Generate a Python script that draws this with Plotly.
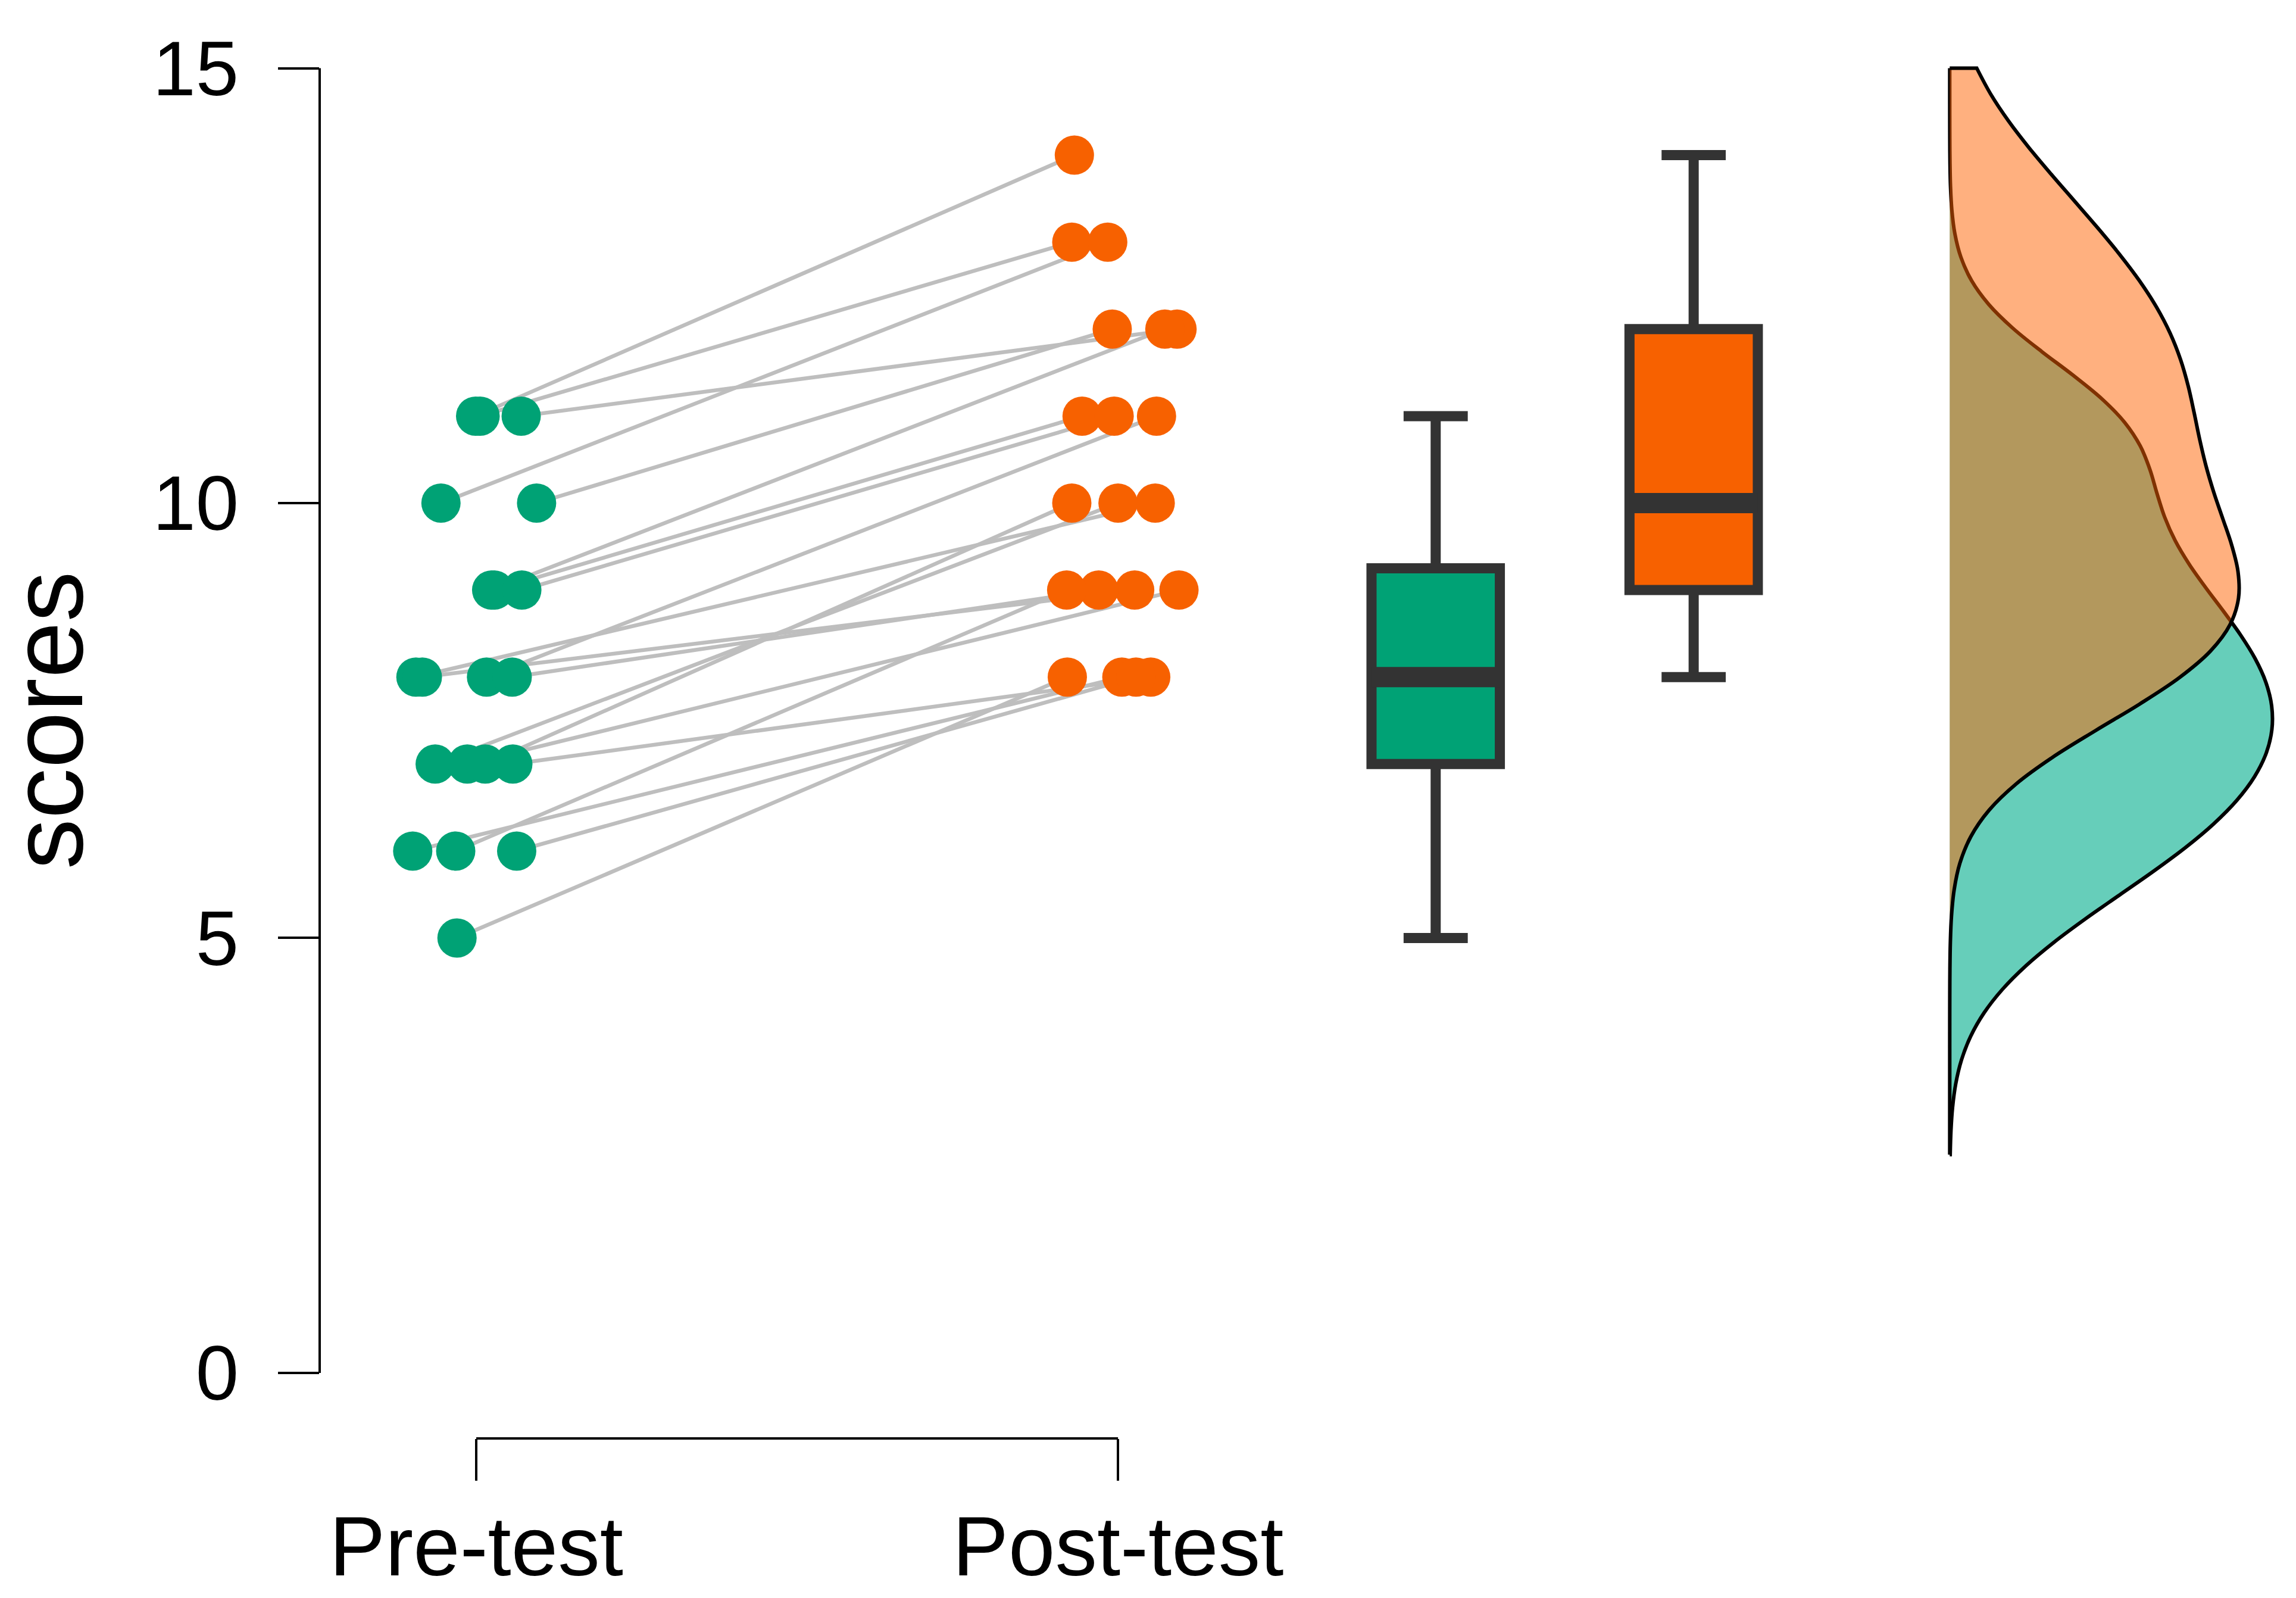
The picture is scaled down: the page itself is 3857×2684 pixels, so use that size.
import numpy as np
import plotly.graph_objects as go

# ---------------- data ----------------
categories = ["Pre-test", "Post-test"]
pre_scores = [11, 11, 11, 10, 10, 9, 9, 9, 8, 8, 8, 8, 7, 7, 7, 7, 6, 6, 6, 5]
post_scores = [14, 13, 12, 13, 12, 12, 11, 11, 10, 9, 11, 9, 10, 9, 10, 8, 8, 9, 8, 8]
# horizontal jitter of each dot (in x-units), as seen in the picture
pre_jitter = [-0.001, 0.006, 0.070, -0.055, 0.094, 0.024, 0.028, 0.071, -0.094, -0.084,
              0.016, 0.056, -0.064, -0.014, 0.014, 0.057, -0.099, -0.032, 0.063, -0.030]
post_jitter = [-0.068, -0.072, 0.092, -0.016, -0.009, 0.073, -0.056, -0.006, 0.058, 0.026,
               0.060, -0.030, 0.000, 0.095, -0.072, 0.051, 0.006, -0.080, 0.028, -0.079]
y_ticks = [0, 5, 10, 15]
y_title = "scores"

# ---------------- layout constants ----------------
X_CAT = [1, 2]
BOX_X = [2.495, 2.897]
BOX_W = 0.2
DENS_X = 3.296
GREEN = "#00A275"
ORANGE = "#F76100"
GREEN_FILL = "rgb(102,206,186)"
ORANGE_FILL = "rgba(255,97,0,0.5)"
LINE_GRAY = "#BEBEBE"
BOX_LINE = "#333333"
FONT = "Liberation Sans, Arial, sans-serif"

pre = np.array(pre_scores, dtype=float)
post = np.array(post_scores, dtype=float)


def nrd0(v):
    v = np.asarray(v, dtype=float)
    q75, q25 = np.percentile(v, [75, 25])
    return 0.9 * min(v.std(ddof=1), (q75 - q25) / 1.34) * len(v) ** -0.2


def box_stats(v):
    v = np.asarray(v, dtype=float)
    q1, med, q3 = np.percentile(v, [25, 50, 75])
    iqr = q3 - q1
    lo = v[v >= q1 - 1.5 * iqr].min()
    hi = v[v <= q3 + 1.5 * iqr].max()
    return q1, med, q3, lo, hi


bw_pre, bw_post = nrd0(pre), nrd0(post)
span_lo = min(pre.min(), post.min()) - 3 * bw_pre
span_hi = max(y_ticks)

fig = go.Figure()

# connecting lines
lx, ly = [], []
for p0, p1, j0, j1 in zip(pre_scores, post_scores, pre_jitter, post_jitter):
    lx += [X_CAT[0] + j0, X_CAT[1] + j1, None]
    ly += [p0, p1, None]
fig.add_trace(go.Scatter(x=lx, y=ly, mode="lines",
                         line=dict(color=LINE_GRAY, width=6.5),
                         hoverinfo="skip", showlegend=False))

# dots
fig.add_trace(go.Scatter(x=[X_CAT[0] + j for j in pre_jitter], y=pre_scores, mode="markers",
                         marker=dict(color=GREEN, size=66, line=dict(width=0)),
                         showlegend=False))
fig.add_trace(go.Scatter(x=[X_CAT[1] + j for j in post_jitter], y=post_scores, mode="markers",
                         marker=dict(color=ORANGE, size=66, line=dict(width=0)),
                         showlegend=False))

# boxes (quartiles as R/ggplot computes them)
for vals, bx, col in [(pre, BOX_X[0], GREEN), (post, BOX_X[1], ORANGE)]:
    q1, med, q3, lo, hi = box_stats(vals)
    fig.add_trace(go.Box(x=[bx], q1=[q1], median=[med], q3=[q3],
                         lowerfence=[lo], upperfence=[hi], width=BOX_W,
                         boxpoints=False, fillcolor=col,
                         line=dict(color=BOX_LINE, width=17), whiskerwidth=0.5,
                         showlegend=False, hoverinfo="skip"))
    fig.add_trace(go.Scatter(x=[bx - BOX_W / 2, bx + BOX_W / 2], y=[med, med], mode="lines",
                             line=dict(color=BOX_LINE, width=34), showlegend=False,
                             hoverinfo="skip"))

# half densities
fig.add_trace(go.Violin(y=pre_scores, x0=DENS_X, side="positive", width=1.004,
                        scalemode="width", spanmode="manual", span=[span_lo, span_hi],
                        bandwidth=bw_pre, fillcolor=GREEN_FILL,
                        line=dict(color="black", width=6), points=False,
                        box_visible=False, meanline_visible=False,
                        showlegend=False, hoverinfo="skip"))
fig.add_trace(go.Violin(y=post_scores, x0=DENS_X, side="positive", width=0.90,
                        scalemode="width", spanmode="manual", span=[span_lo, span_hi],
                        bandwidth=bw_post, fillcolor=ORANGE_FILL,
                        line=dict(color="black", width=6), points=False,
                        box_visible=False, meanline_visible=False,
                        showlegend=False, hoverinfo="skip"))

fig.update_layout(
    width=3857, height=2684, autosize=False,
    margin=dict(l=529, r=0, t=52, b=276, pad=0),
    paper_bgcolor="white", plot_bgcolor="white",
    violinmode="overlay", boxmode="overlay",
    font=dict(family=FONT, color="black"),
    xaxis=dict(range=[0.756, 3.843], tickmode="array", tickvals=X_CAT, ticktext=categories,
               ticks="outside", ticklen=70, tickwidth=4, tickcolor="black",
               showgrid=False, zeroline=False, showline=False,
               tickfont=dict(size=141, family=FONT, color="black"),
               ticklabelstandoff=-10),
    yaxis=dict(range=[-0.753, 15.373], tickmode="array", tickvals=y_ticks,
               ticks="outside", ticklen=69, tickwidth=4, tickcolor="black",
               showgrid=False, zeroline=False, showline=False,
               tickfont=dict(size=130, family=FONT, color="black"),
               ticklabelstandoff=40),
    shapes=[
        dict(type="line", xref="paper", yref="y", x0=0, x1=0,
             y0=min(y_ticks), y1=max(y_ticks), line=dict(color="black", width=4)),
        dict(type="line", xref="x", yref="paper", x0=X_CAT[0], x1=X_CAT[1],
             y0=0, y1=0, line=dict(color="black", width=4)),
    ],
    annotations=[
        dict(text=y_title, xref="paper", yref="y", x=0, y=(min(y_ticks) + max(y_ticks)) / 2,
             xanchor="center", yanchor="middle", xshift=-458, textangle=-90,
             showarrow=False, font=dict(size=170, family=FONT, color="black")),
    ],
)

fig.write_html("out.html")
